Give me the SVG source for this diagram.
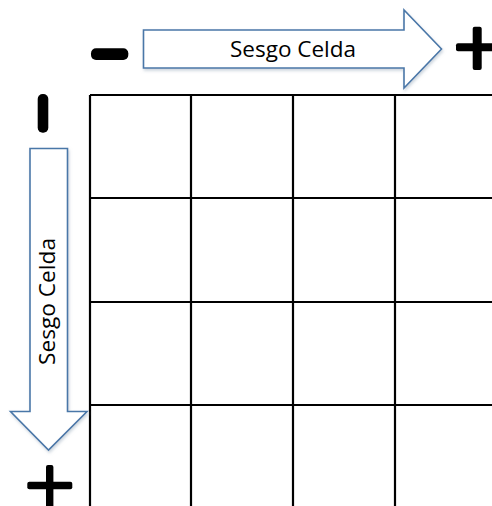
<svg xmlns="http://www.w3.org/2000/svg" width="492" height="506" viewBox="0 0 492 506">
<style>
.grid line{stroke:#000;stroke-width:2.2}
.arrow{fill:#fff;stroke:#4a77a8;stroke-width:1.6;stroke-linejoin:miter}
.lbl{font-family:"Open Sans","Liberation Sans",sans-serif;font-size:21.5px;fill:#000;text-anchor:middle}
.sign{fill:#000}
</style>
<defs>
<filter id="sh" x="-10%" y="-10%" width="120%" height="130%">
<feDropShadow dx="1" dy="2" stdDeviation="1.5" flood-color="#9ab" flood-opacity="0.5"/>
</filter>
</defs>
<g id="grid" class="grid">
<line x1="90" y1="95" x2="492" y2="95"/>
<line x1="90" y1="198" x2="492" y2="198"/>
<line x1="90" y1="302" x2="492" y2="302"/>
<line x1="90" y1="405" x2="492" y2="405"/>
<line x1="90" y1="95" x2="90" y2="506"/>
<line x1="191" y1="95" x2="191" y2="506"/>
<line x1="293" y1="95" x2="293" y2="506"/>
<line x1="395" y1="95" x2="395" y2="506"/>
</g>
<g id="connectors">
<g id="arrow-h">
<path class="arrow" filter="url(#sh)" d="M143.5,30 H404 V10 L441.5,49 L404,88 V68 H143.5 Z"/>
<text class="lbl" x="293" y="56.7" textLength="126" lengthAdjust="spacingAndGlyphs">Sesgo Celda</text>
</g>
<g id="arrow-v">
<path class="arrow" filter="url(#sh)" d="M30,148.5 H67.5 V411.5 H87 L48.5,450 L10.5,411.5 H30 Z"/>
<text class="lbl" transform="translate(54.5,301.5) rotate(-90)" x="0" y="0" textLength="127" lengthAdjust="spacingAndGlyphs">Sesgo Celda</text>
</g>
</g>
<g id="minus-top">
<rect class="sign" x="91" y="48.3" width="37.3" height="11.7" rx="5"/>
</g>
<g id="plus-top">
<rect class="sign" x="456" y="43.3" width="42" height="8" rx="2"/>
<rect class="sign" x="472.7" y="26.7" width="9" height="43.3" rx="2"/>
</g>
<g id="minus-left">
<rect class="sign" x="37.7" y="94" width="10.6" height="38.7" rx="5"/>
</g>
<g id="plus-bottom">
<rect class="sign" x="27.3" y="481.7" width="45" height="7.6" rx="2"/>
<rect class="sign" x="46" y="465" width="7.4" height="45" rx="2"/>
</g>
</svg>
